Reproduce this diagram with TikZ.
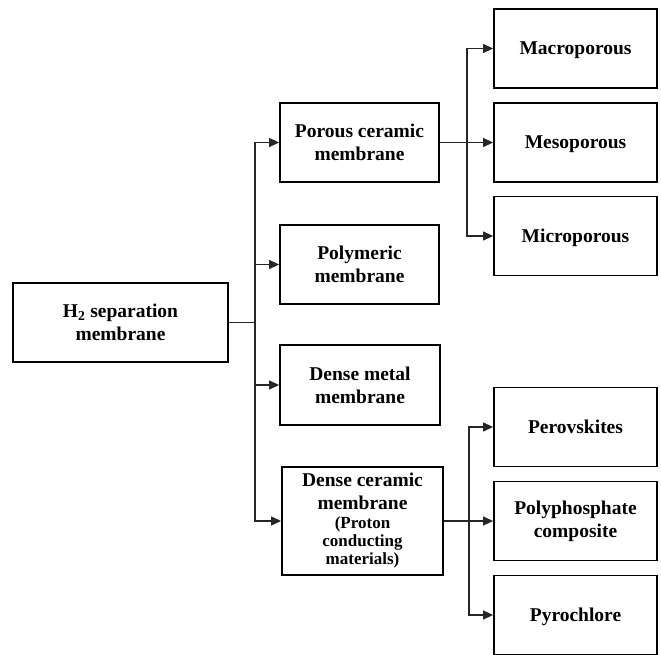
\documentclass[tikz,border=0pt]{standalone}
\usepackage{fontspec}
\setmainfont{Liberation Serif}
\usetikzlibrary{arrows.meta}
\newcommand{\smf}{\fontsize{17}{18}\selectfont}
\begin{document}
\begin{tikzpicture}[x=1pt,y=-1pt,
  box/.style={draw=black, line width=1.8pt, fill=white, inner sep=0pt, align=center,
    font=\fontsize{19.5}{23}\selectfont\bfseries},
  conn/.style={line width=1.2pt, draw=black!85},
  arr/.style={conn, -{Triangle[length=10pt,width=9pt]}}]
\useasboundingbox (0,0) rectangle (661,655);
\node[box, minimum width=215pt, minimum height=79pt] (h2) at (120.5,322.5) {H\textsubscript{2} separation\\membrane};
\node[box, minimum width=159pt, minimum height=79pt] (por) at (359.5,142.5) {Porous ceramic\\membrane};
\node[box, minimum width=159pt, minimum height=79pt] (pol) at (359.5,264.5) {Polymeric\\membrane};
\node[box, minimum width=160pt, minimum height=80pt] (dm) at (360,385) {Dense metal\\membrane};
\node[box, minimum width=161pt, minimum height=108pt] (dc) at (362.5,521) {Dense ceramic\\membrane\\[-4pt]\smf (Proton\\[-5pt]\smf conducting\\[-5pt]\smf materials)};
\node[box, minimum width=163pt, minimum height=79pt, text depth=0pt] (mac) at (575.5,48.5) {Macroporous};
\node[box, minimum width=163pt, minimum height=79pt, text depth=0pt] (mes) at (575.5,142.5) {Mesoporous};
\node[box, minimum width=163pt, minimum height=79pt, text depth=0pt] (mic) at (575.5,236) {Microporous};
\node[box, minimum width=163pt, minimum height=79pt, text depth=0pt] (per) at (575.5,427) {Perovskites};
\node[box, minimum width=163pt, minimum height=79pt] (pph) at (575.5,521) {Polyphosphate\\composite};
\node[box, minimum width=163pt, minimum height=79pt, text depth=0pt] (pyr) at (575.5,615) {Pyrochlore};
\coordinate (t) at (255,322.5);
\coordinate (b1) at (467,0);
\coordinate (b2) at (469,0);
\draw[conn] (h2.east) -- (t);
\draw[arr] (t) |- (por.west);
\draw[arr] (t) |- (pol.west);
\draw[arr] (t) |- (dm.west);
\draw[arr] (t) |- (dc.west);
\draw[arr] (por.east) -- (mes.west);
\draw[arr] (por.east -| b1) |- (mac.west);
\draw[arr] (por.east -| b1) |- (mic.west);
\draw[arr] (dc.east) -- (pph.west);
\draw[arr] (dc.east -| b2) |- (per.west);
\draw[arr] (dc.east -| b2) |- (pyr.west);
\end{tikzpicture}
\end{document}
